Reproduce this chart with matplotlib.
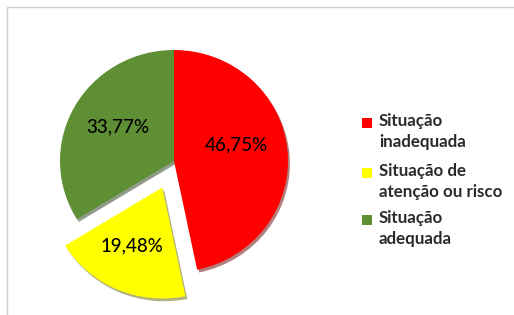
import matplotlib
matplotlib.use("Agg")
import matplotlib.pyplot as plt
from matplotlib.patches import Rectangle

categories = ["Situação\ninadequada", "Situação de\natenção ou risco", "Situação\nadequada"]
values = [46.75, 19.48, 33.77]
colors = ["#ff0000", "#ffff00", "#5f8f35"]
explode = [0.0, 0.26, 0.0]

plt.rcParams['font.family'] = ['Lato', 'DejaVu Sans']

W, H = 514, 315
fig = plt.figure(figsize=(W / 100, H / 100), dpi=100)

# frame
fig.patches.append(Rectangle((7 / W, -0.05), 1.1, (H - 7) / H + 0.05,
                             transform=fig.transFigure, fill=False,
                             edgecolor="#cfcfcf", linewidth=1.0))

cx, cy, RX, RY = 174, 154, 114, 111
half = 150
ax = fig.add_axes([(cx - half) / W, (cy - half) / H, 2 * half / W, 2 * half / H])

wedges, texts = ax.pie(values, colors=colors, explode=explode, startangle=90,
                       counterclock=False, radius=1.0,
                       shadow={'ox': 0.012, 'oy': -0.018, 'shade': 0.6},
                       wedgeprops=dict(linewidth=0))
ax.set_aspect("auto")
ax.set_xlim(-half / RX, half / RX)
ax.set_ylim(-half / RY, half / RY)
ax.axis("off")

label_pos = [(0.55, 0.15), (-0.37, -0.76), (-0.49, 0.31)]
for v, (x, y) in zip(values, label_pos):
    ax.text(x, y, f"{v:.2f}".replace(".", ",") + "%", ha="center", va="center",
            fontsize=13.5, color="#000000", fontweight="medium")

# legend
ly = [123, 173, 220]
for lab, c, y in zip(categories, colors, ly):
    fig.patches.append(Rectangle((362 / W, (H - y - 5) / H), 10 / W, 10 / H,
                                 transform=fig.transFigure, facecolor=c,
                                 edgecolor="none"))
    fig.text(379 / W, (H - y + 10) / H, lab, ha="left", va="top", fontsize=12.2,
             color="#2a2a2a", linespacing=1.42, fontweight="bold",
             transform=fig.transFigure)

fig.savefig("out.png", dpi=100)
